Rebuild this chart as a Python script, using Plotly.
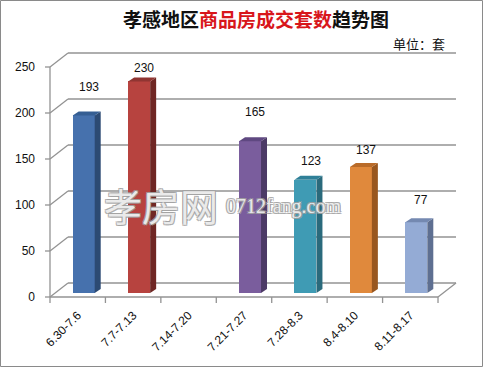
import plotly.graph_objects as go

# ---------------- data ----------------
categories = ["6.30-7.6", "7.7-7.13", "7.14-7.20", "7.21-7.27", "7.28-8.3", "8.4-8.10", "8.11-8.17"]
values = [193, 230, None, 165, 123, 137, 77]
y_ticks = [0, 50, 100, 150, 200, 250]

# ---------------- styling ----------------
front_colors = ["#4671AD", "#B7433F", "#7A5D9D", "#3F9BB4", "#E0893C", "#94ABD5"]
side_colors = ["#2C4A73", "#6F2724", "#4C3A66", "#2A6A7C", "#99571F", "#5E6F91"]
top_colors = ["#355E93", "#903532", "#5F4881", "#2F8098", "#B96B29", "#7489B1"]
label_lift_px = [32, 17, None, 33, 23, 21, 26]

# geometry (pixel scale of the axes)
UX = 55.43   # px per category unit
UY = 0.92    # px per value unit
X0_PX, Y0_PX = 50, 297          # pixel of (x=-0.5, y=0)
L, R, T, B = 42, 470, 45, 305   # plot area in pixels
W, H = 483, 367

wall_dx = 18 / UX
wall_dy = 14 / UY
bar_ox = 6 / UX
bar_oy = 4 / UY
bar_w = 22 / UX
bar_d = 6 / UX
bar_dd = 4 / UY

xr = [-0.5 - (X0_PX - L) / UX, -0.5 + (R - X0_PX) / UX]
yr = [-(B - Y0_PX) / UY, (Y0_PX - T) / UY]

GRID = "#939393"
n = len(categories)

shapes = []
def seg(x0, y0, x1, y1, color=GRID, width=1.3):
    shapes.append(dict(type="line", xref="x", yref="y", x0=x0, y0=y0, x1=x1, y1=y1,
                       line=dict(color=color, width=width), layer="below"))

xl_axis = -0.5
xr_axis = n - 0.5
for v in y_ticks:
    # back wall gridline
    seg(xl_axis + wall_dx, v + wall_dy, xr_axis + wall_dx, v + wall_dy)
    # side wall diagonal
    seg(xl_axis, v, xl_axis + wall_dx, v + wall_dy)
    # y tick mark
    seg(xl_axis - 5 / UX, v, xl_axis, v)
# front value axis
seg(xl_axis, 0, xl_axis, max(y_ticks))
# floor front edge + right diagonal
seg(xl_axis, 0, xr_axis, 0)
seg(xr_axis, 0, xr_axis + wall_dx, wall_dy)
# category tick marks
for k in range(n + 1):
    seg(xl_axis + k, 0, xl_axis + k, -6 / UY)

fig = go.Figure()

ci = 0
annotations = []
for i, v in enumerate(values):
    if v is None:
        continue
    fc, sc, tc = front_colors[ci], side_colors[ci], top_colors[ci]
    ci += 1
    x_left = i + bar_ox - bar_w / 2
    x_right = i + bar_ox + bar_w / 2
    base = bar_oy
    top = base + v
    fig.add_trace(go.Bar(x=[i + bar_ox], y=[v], base=[base], width=[bar_w],
                         marker=dict(color=fc, line=dict(width=0)), hoverinfo="skip",
                         showlegend=False))
    # side face
    fig.add_trace(go.Scatter(
        x=[x_right, x_right + bar_d, x_right + bar_d, x_right, x_right],
        y=[base, base + bar_dd, top + bar_dd, top, base],
        fill="toself", fillcolor=sc, mode="lines", line=dict(width=0, color=sc),
        hoverinfo="skip", showlegend=False))
    # top face
    fig.add_trace(go.Scatter(
        x=[x_left, x_right, x_right + bar_d, x_left + bar_d, x_left],
        y=[top, top, top + bar_dd, top + bar_dd, top],
        fill="toself", fillcolor=tc, mode="lines", line=dict(width=0, color=tc),
        hoverinfo="skip", showlegend=False))
    annotations.append(dict(x=i + 0.2, y=v, xref="x", yref="y", text=str(v),
                            showarrow=False, yshift=label_lift_px[i],
                            font=dict(size=12, color="#111", family="Liberation Sans")))

def px2paper(px, py):
    return (px - L) / (R - L), (B - py) / (B - T)

# unit label
ux, uy = px2paper(447, 43)
annotations.append(dict(x=ux, y=uy, xref="paper", yref="paper", xanchor="right",
                        yanchor="middle", text="单位：套", showarrow=False,
                        font=dict(size=13, color="#111", family="Noto Sans CJK SC")))
# watermark
shadow = "1px 1px 0 #a0a0a0, -1px -1px 0 #a0a0a0, 1px -1px 0 #a0a0a0, -1px 1px 0 #a0a0a0"
wx, wy = px2paper(161, 204)
annotations.append(dict(x=wx, y=wy, xref="paper", yref="paper", text="孝房网",
                        xanchor="center", yanchor="middle", showarrow=False, borderpad=0,
                        font=dict(size=38, color="rgba(255,255,255,0.8)", family="Noto Sans CJK SC",
                                  shadow=shadow)))
wx2, wy2 = px2paper(283, 206)
annotations.append(dict(x=wx2, y=wy2, xref="paper", yref="paper", text="0712fang.com",
                        xanchor="center", yanchor="middle", showarrow=False, borderpad=0,
                        font=dict(size=20, color="rgba(255,255,255,0.8)", family="Liberation Serif",
                                  shadow=shadow)))

# outer frame
fx0, fy0 = px2paper(0.5, 366.5)
fx1, fy1 = px2paper(482.5, 0.5)
shapes.append(dict(type="rect", xref="paper", yref="paper", x0=fx0, y0=fy0, x1=fx1, y1=fy1,
                   line=dict(color="#8a8a8a", width=1), layer="below"))

fig.update_layout(
    width=W, height=H,
    margin=dict(l=L, r=W - R, t=T, b=H - B),
    paper_bgcolor="white", plot_bgcolor="white",
    title=dict(text="<b>孝感地区<span style='color:#d8161b'>商品房成交套数</span>趋势图</b>",
               x=0.5, xref="paper", xanchor="center", y=1 - 20 / H, yanchor="middle",
               font=dict(size=19, color="#111", family="Noto Sans CJK SC")),
    xaxis=dict(range=xr, tickmode="array", tickvals=list(range(n)), ticktext=categories,
               tickangle=-45, ticks="", showgrid=False, showline=False, zeroline=False,
               tickfont=dict(size=12, color="#111", family="Liberation Sans"),
               fixedrange=True),
    yaxis=dict(range=yr, tickmode="array", tickvals=y_ticks, ticks="", showgrid=False,
               showline=False, zeroline=False, ticklabelstandoff=6,
               tickfont=dict(size=12, color="#111", family="Liberation Sans"),
               fixedrange=True),
    bargap=0, barmode="overlay",
    shapes=shapes, annotations=annotations, showlegend=False,
)
fig.write_html("out.html")
